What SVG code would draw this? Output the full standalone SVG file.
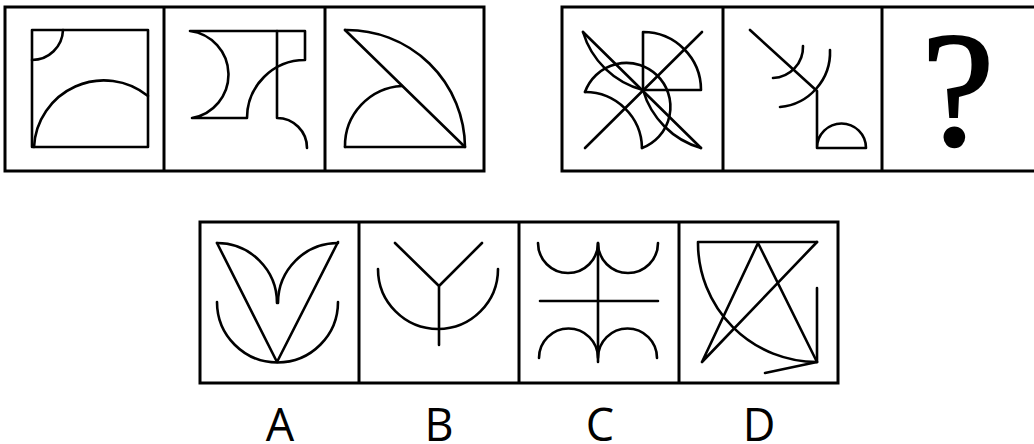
<svg xmlns="http://www.w3.org/2000/svg" width="1034" height="444" viewBox="0 0 1034 444">
<style>
.frame{fill:none;stroke:#000;stroke-width:3}
.ln{fill:none;stroke:#000;stroke-width:2.6;stroke-linecap:round;stroke-linejoin:round}
.lbl{font-family:"Open Sans","Liberation Sans",sans-serif;font-size:45px;fill:#000;text-anchor:middle}
</style>
<rect width="1034" height="444" fill="#fff"/>
<g id="frames">
<rect class="frame" x="5" y="7" width="479" height="164"/>
<line class="frame" x1="164" y1="7" x2="164" y2="171"/>
<line class="frame" x1="325" y1="7" x2="325" y2="171"/>
<rect class="frame" x="562" y="7" width="490" height="164"/>
<line class="frame" x1="723" y1="7" x2="723" y2="171"/>
<line class="frame" x1="882" y1="7" x2="882" y2="171"/>
<rect class="frame" x="200" y="222" width="638" height="161"/>
<line class="frame" x1="359" y1="222" x2="359" y2="383"/>
<line class="frame" x1="519" y1="222" x2="519" y2="383"/>
<line class="frame" x1="679" y1="222" x2="679" y2="383"/>
</g>
<g id="cell1">
<rect class="ln" x="32" y="30" width="116" height="117"/>
<path class="ln" d="M32,60 A31,31 0 0 0 63,30"/>
<path class="ln" d="M34,147 A70,70 0 0 1 148,96"/>
</g>
<g id="cell2">
<path class="ln" d="M190,31 H305 V60 A58,58 0 0 0 247,118 H192 A44,44 0 0 0 190,31"/>
<path class="ln" d="M277,31 V118 A30,30 0 0 1 307,148"/>
</g>
<g id="cell3">
<path class="ln" d="M345,30 L465,147 H345"/>
<path class="ln" d="M345,30 A118,118 0 0 1 465,147"/>
<path class="ln" d="M345,147 A60,60 0 0 1 402,86"/>
</g>
<g id="cell4">
<line class="ln" x1="702" y1="32" x2="585" y2="148"/>
<line class="ln" x1="583" y1="32" x2="701" y2="148"/>
<path class="ln" d="M643,90 V32 A58,58 0 0 1 701,90 Z"/>
<path class="ln" d="M583,32 A85,85 0 0 0 643,90"/>
<path class="ln" d="M643,90 A85,85 0 0 0 701,148"/>
<path class="ln" d="M585,92 A44,44 0 1 1 642,148"/>
<path class="ln" d="M585,92 A57,57 0 0 1 642,148"/>
</g>
<g id="cell5">
<path class="ln" d="M750,30 L817,91 V148 H866 A24.5,24.5 0 0 0 817,148"/>
<path class="ln" d="M773,78 A31,31 0 0 0 803,46"/>
<path class="ln" d="M780,107 A55,55 0 0 0 830,50"/>
</g>
<g id="cell6">
<text x="958" y="145" style="font-family:'Liberation Serif',serif;font-size:163px;text-anchor:middle;stroke:#000;stroke-width:2.5">?</text>
</g>
<g id="optA">
<path class="ln" d="M217,243 L277,362 L338,242"/>
<path class="ln" d="M217,243 A60,60 0 0 1 277,303"/>
<path class="ln" d="M338,243 A60,60 0 0 0 278,303"/>
<path class="ln" d="M217,302 A60,60 0 0 0 338,302"/>
</g>
<g id="optB">
<path class="ln" d="M395,243 L439,286 L482,243 M439,286 V345"/>
<path class="ln" d="M378,269 A60,60 0 0 0 498,269"/>
</g>
<g id="optC">
<path class="ln" d="M598,243 V362 M540,301 H658"/>
<path class="ln" d="M538,243 A30,30 0 0 0 598,243 A30,30 0 0 0 658,243"/>
<path class="ln" d="M539,358 A29.5,29.5 0 0 1 598,358 A29.5,29.5 0 0 1 657,358"/>
</g>
<g id="optD">
<path class="ln" d="M698,242 H817"/>
<path class="ln" d="M698,243 A119,119 0 0 0 817,362"/>
<path class="ln" d="M702,362 L758,243 L817,362 M817,242 L702,362"/>
<path class="ln" d="M817,288 V362 L765,373"/>
</g>
<g id="labels">
<text class="lbl" x="280" y="441">A</text>
<text class="lbl" x="439" y="441">B</text>
<text class="lbl" x="600" y="441">C</text>
<text class="lbl" x="759" y="441">D</text>
</g>
</svg>
